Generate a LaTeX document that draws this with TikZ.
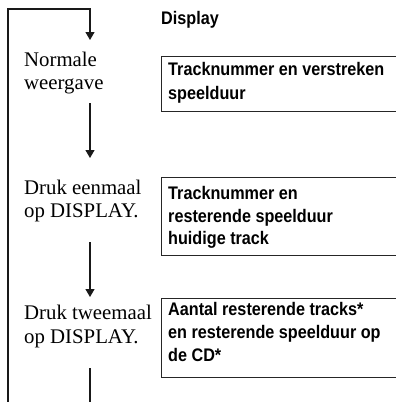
\documentclass[tikz,border=0pt]{standalone}
\usepackage{fontspec}
\setmainfont{Liberation Serif}
\newfontfamily\boxfont[FakeStretch=0.89]{Liberation Sans}
\usetikzlibrary{arrows.meta}
\tikzset{
  stepline/.style={line width=1.1pt, draw=black!90},
  flowarrow/.style={stepline, -{Triangle[width=9pt,length=8pt]}},
  serif/.style={anchor=base west, inner sep=0pt, font=\fontsize{20.8}{23.5}\selectfont},
  sans/.style={anchor=base west, inner sep=0pt, font=\boxfont\bfseries\fontsize{18.2}{23}\selectfont},
  framebox/.style={draw=black!85, line width=1pt, anchor=north west, inner sep=0pt, minimum width=260pt}
}
\begin{document}
\begin{tikzpicture}[x=1pt,y=-1pt]
\useasboundingbox (0,0) rectangle (396,402);
\clip (0,0) rectangle (396,402);
% boxes
\node[framebox, minimum height=55pt] (b1) at (161,56) {};
\node[framebox, minimum height=78pt] (b2) at (161,177) {};
\node[framebox, minimum height=79pt] (b3) at (161,298) {};
% heading
\node[sans] (disp) at (161,24) {Display};
% box texts
\node[sans] (b1l1) at (168,75) {Tracknummer en verstreken};
\node[sans] (b1l2) at (168,99) {speelduur};
\node[sans] (b2l1) at (168,199) {Tracknummer en};
\node[sans] (b2l2) at (168,222) {resterende speelduur};
\node[sans] (b2l3) at (168,244) {huidige track};
\node[sans] (b3l1) at (168,315) {Aantal resterende tracks*};
\node[sans] (b3l2) at (168,338) {en resterende speelduur op};
\node[sans] (b3l3) at (168,361) {de CD*};
% step texts
\node[serif] (s1a) at (24,66) {Normale};
\node[serif] (s1b) at (24,89) {weergave};
\node[serif] (s2a) at (24,194) {Druk eenmaal};
\node[serif] (s2b) at (24,217) {op DISPLAY.};
\node[serif] (s3a) at (24,319) {Druk tweemaal};
\node[serif] (s3b) at (24,343) {op DISPLAY.};
% connector ends
\coordinate (loopstart) at (8,402);
\coordinate (loopcorner) at (90,9);
\coordinate (tip1) at (90,40);
\coordinate (from2) at (90,103);
\coordinate (tip2) at (90,158);
\coordinate (from3) at (90,242);
\coordinate (tip3) at (90,297);
\coordinate (from4) at (90,368);
\coordinate (end4) at (90,402);
% connectors
\draw[flowarrow] (loopstart) |- (loopcorner) -- (tip1);
\draw[flowarrow] (from2) -- (tip2);
\draw[flowarrow] (from3) -- (tip3);
\draw[stepline] (from4) -- (end4);
\end{tikzpicture}
\end{document}
